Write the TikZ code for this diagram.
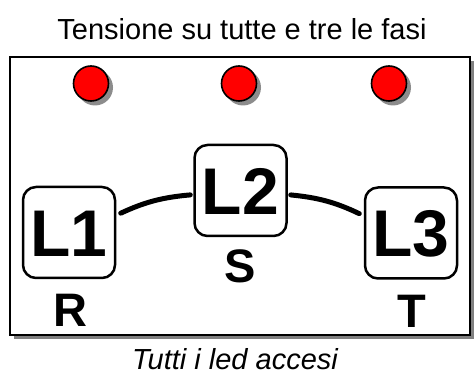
\documentclass[tikz,border=0pt]{standalone}
\usepackage{fontspec}
\setmainfont{Liberation Sans}
\usetikzlibrary{positioning}

\begin{document}
\begin{tikzpicture}[x=1pt,y=-1pt]
        \useasboundingbox (0,0) rectangle (475,374);

        % titolo e didascalia
        \node (title)   at (242,29)  {\fontsize{29}{32}\selectfont Tensione su tutte e tre le fasi};
        \node (caption) at (235,359) {\fontsize{29}{32}\selectfont\itshape Tutti i led accesi};

        % pannello con ombra
        \fill[black!50] (14,61) rectangle (474,339);
        \draw[line width=2.5pt,fill=white] (10,57) rectangle (470,335);

        % led
        \foreach \x/\n in {91/a,239/b,389/c} {
          \fill[black!45] (\x+4,87.5) circle (18);
          \node[circle,draw,line width=1.6pt,fill=red,minimum size=35pt,inner sep=0pt] (led\n) at (\x,83.5) {};
        }

        \begin{scope}[every node/.style={draw,line width=2.5pt,rounded corners=13pt,minimum width=92pt,minimum height=91pt,inner sep=0pt,text height=48pt,text depth=0pt,font=\fontsize{66}{66}\selectfont\bfseries}]
          \node (L1) at (69,232.5)  {L1};
          \node (L2) at (240.5,190.5) {L2};
          \node (L3) at (411,233)   {L3};
        \end{scope}

        \begin{scope}[every node/.style={anchor=base,inner sep=0pt,font=\fontsize{47}{47}\selectfont\bfseries}]
          \node (R) at (70,327)  {R};
          \node (S) at (240,283) {S};
          \node (T) at (412,328) {T};
        \end{scope}

        \begin{scope}[every edge/.style={draw,line width=5pt,line cap=round}]
          \path (L1.20)  edge[bend left=10,shorten <=5pt,shorten >=3pt] (L2.185);
          \path (L2.355) edge[bend left=10,shorten <=3pt,shorten >=5pt] (L3.160);
        \end{scope}

      \end{tikzpicture}
\end{document}
